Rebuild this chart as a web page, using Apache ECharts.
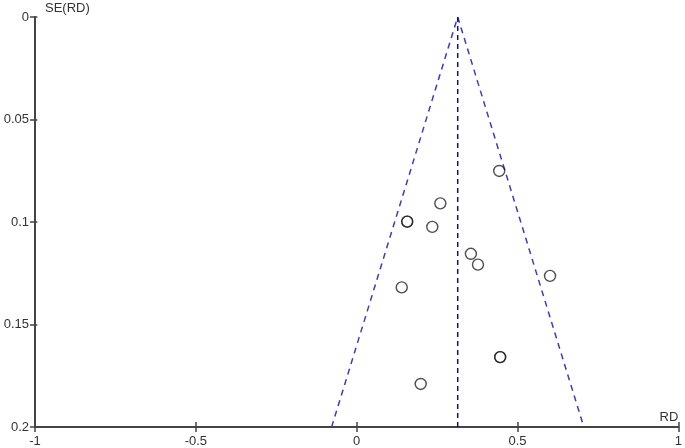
<!DOCTYPE html>
<html>
<head>
<meta charset="utf-8">
<script src="https://cdn.jsdelivr.net/npm/echarts@6/dist/echarts.min.js"></script>
<style>
  html, body { margin: 0; padding: 0; background: #fff; }
  #chart { width: 685px; height: 448px; }
</style>
</head>
<body>
<div id="chart"></div>
<script>
// study estimates: risk difference and its standard error
const rd = [0.443, 0.260, 0.157, 0.157, 0.235, 0.355, 0.377, 0.601, 0.140, 0.446, 0.446, 0.199];
const se = [0.0751, 0.0909, 0.0998, 0.0998, 0.1024, 0.1155, 0.1208, 0.1263, 0.1319, 0.1659, 0.1659, 0.1790];

// pooled estimate and 95% funnel limits at the bottom of the plot
const pooledRD = 0.314;
const funnelBaseSE = 0.2;
const funnelBaseRD = [-0.078, 0.706];

const xTicks = [-1, -0.5, 0, 0.5, 1];
const yTicks = [0, 0.05, 0.1, 0.15, 0.2];

const axisColor = "#444";
const labelStyle = { color: "#333", fontSize: 13, fontFamily: "Liberation Sans, Arial, sans-serif" };

const gridBox = { left: 35, right: 4, top: 17, bottom: 21 };
const plotW = 685 - gridBox.left - gridBox.right;
const plotH = 448 - gridBox.top - gridBox.bottom;

const chart = echarts.init(document.getElementById("chart"));

const baseX = {
  type: "value",
  min: xTicks[0],
  max: xTicks[xTicks.length - 1],
  interval: 0.5,
  splitLine: { show: false },
};
const baseY = {
  type: "value",
  inverse: true,
  min: yTicks[0],
  max: yTicks[yTicks.length - 1],
  interval: 0.05,
  splitLine: { show: false },
};

chart.setOption({
  animation: false,
  grid: Object.assign({ containLabel: false }, gridBox),
  xAxis: [
    Object.assign({}, baseX, {
      position: "bottom",
      name: "RD",
      nameLocation: "end",
      nameGap: 0,
      nameTextStyle: Object.assign({}, labelStyle, { align: "right", verticalAlign: "bottom", padding: [0, 0, 3, 0] }),
      axisLine: { onZero: false, lineStyle: { color: axisColor, width: 2 } },
      axisTick: { length: 5, lineStyle: { color: axisColor, width: 1.5 } },
      axisLabel: Object.assign({}, labelStyle, {
        margin: 8,
        formatter: (v) => String(v),
      }),
    }),
    // mirrored ticks pointing up from the bottom axis line
    Object.assign({}, baseX, {
      position: "top",
      offset: -plotH,
      axisLine: { show: false, onZero: false },
      axisTick: { length: 5, lineStyle: { color: axisColor, width: 1.5 } },
      axisLabel: { show: false },
    }),
  ],
  yAxis: [
    Object.assign({}, baseY, {
      position: "left",
      name: "SE(RD)",
      nameLocation: "start",
      nameGap: 9,
      nameTextStyle: Object.assign({}, labelStyle, { align: "left", verticalAlign: "middle", padding: [0, 0, 0, 10] }),
      axisLine: { onZero: false, lineStyle: { color: axisColor, width: 2 } },
      axisTick: { length: 5, lineStyle: { color: axisColor, width: 1.5 } },
      axisLabel: Object.assign({}, labelStyle, {
        margin: 6,
        formatter: (v) => String(v),
      }),
    }),
    // mirrored ticks pointing right from the left axis line
    Object.assign({}, baseY, {
      position: "right",
      offset: -plotW,
      axisLine: { show: false, onZero: false },
      axisTick: { length: 5, lineStyle: { color: axisColor, width: 1.5 } },
      axisLabel: { show: false },
    }),
  ],
  series: [
    {
      name: "funnel",
      type: "line",
      data: [
        [funnelBaseRD[0], funnelBaseSE],
        [pooledRD, 0],
        [funnelBaseRD[1], funnelBaseSE],
      ],
      symbol: "none",
      lineStyle: { color: "#3b3bc4", width: 1.5, type: [6, 5] },
      z: 2,
    },
    {
      name: "pooled",
      type: "line",
      data: [
        [pooledRD, 0],
        [pooledRD, funnelBaseSE],
      ],
      symbol: "none",
      lineStyle: { color: "#10106e", width: 1.5, type: [5, 4] },
      z: 2,
    },
    {
      name: "studies",
      type: "scatter",
      data: rd.map((x, i) => [x, se[i]]),
      symbol: "circle",
      symbolSize: 11,
      itemStyle: { color: "rgba(255,255,255,0)", borderColor: "#222", borderWidth: 1.4 },
      z: 3,
    },
  ],
});
</script>
</body>
</html>
